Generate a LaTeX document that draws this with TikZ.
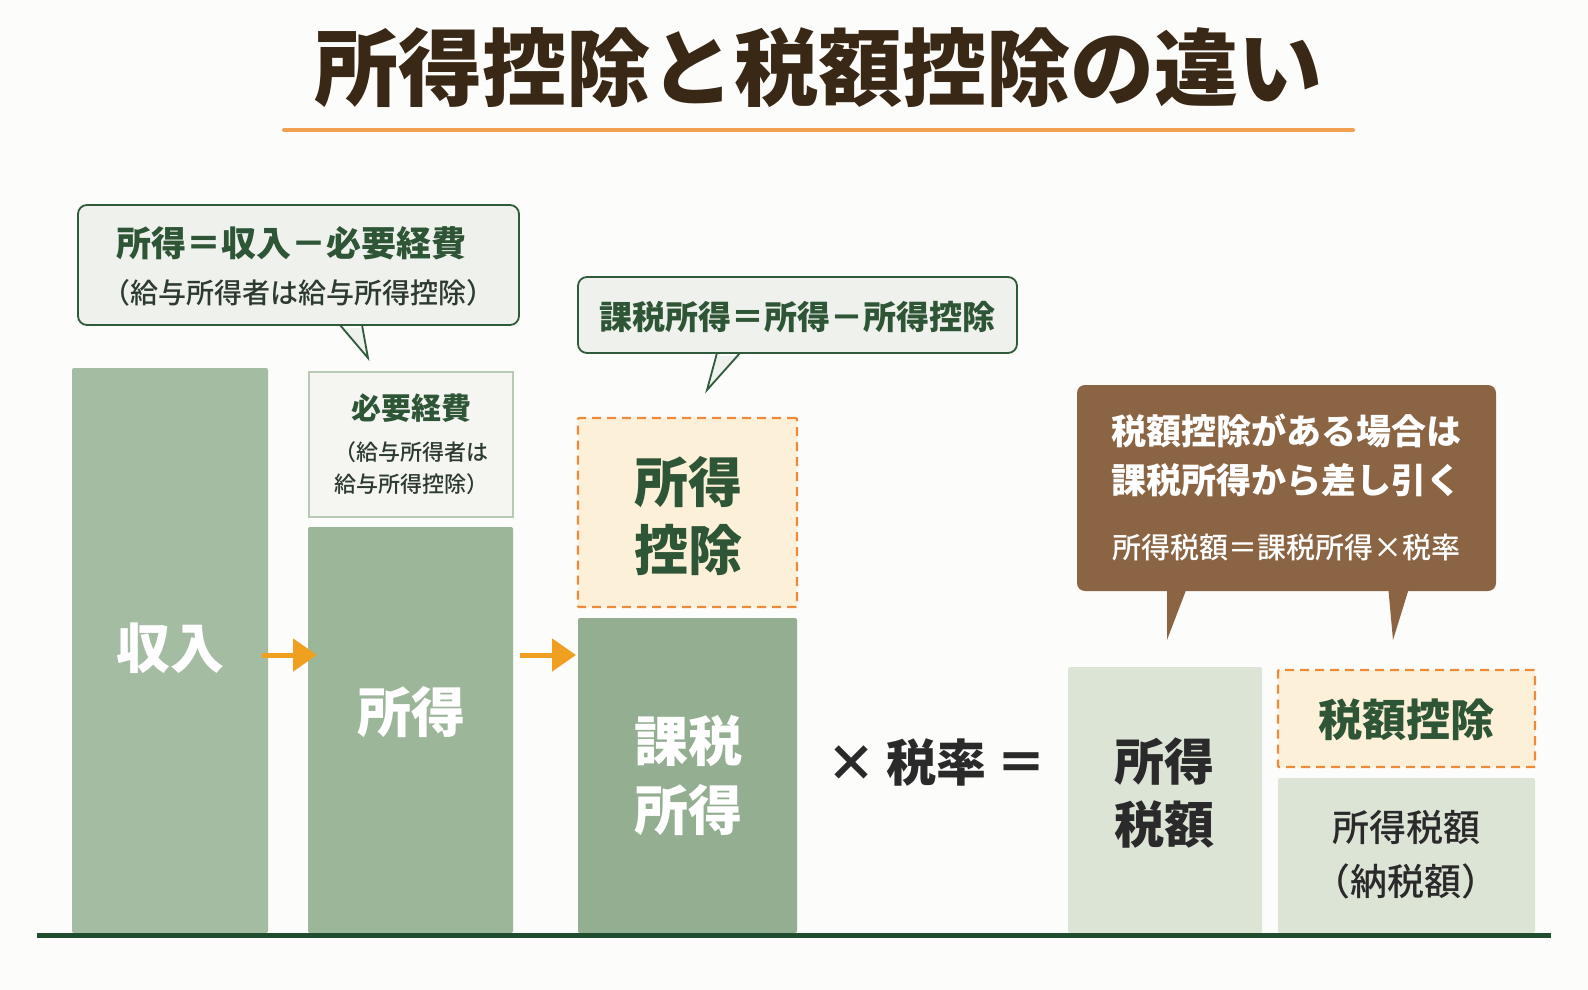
\documentclass[tikz,border=0pt]{standalone}
\usepackage{fontspec}
\setmainfont{Noto Sans CJK JP}
\newfontfamily\jpmed{Noto Sans CJK JP Medium}
\usetikzlibrary{arrows.meta}
\definecolor{bgc}{HTML}{FCFCFA}
\definecolor{titlec}{HTML}{3A2816}
\definecolor{orangeline}{HTML}{F0A050}
\definecolor{arrowc}{HTML}{F0A020}
\definecolor{dashc}{HTML}{EF8A3A}
\definecolor{creamc}{HTML}{FCF1D8}
\definecolor{bar1}{HTML}{A4BCA1}
\definecolor{bar2}{HTML}{9CB699}
\definecolor{bar3}{HTML}{93AE90}
\definecolor{barlight}{HTML}{DCE5D5}
\definecolor{keihif}{HTML}{F5F6F2}
\definecolor{keihid}{HTML}{B8C9B4}
\definecolor{bubf}{HTML}{EEF1EC}
\definecolor{bubd}{HTML}{2F5B3B}
\definecolor{brownc}{HTML}{8A6443}
\definecolor{dgreen}{HTML}{2E5535}
\definecolor{dgray}{HTML}{2C3A2F}
\definecolor{darkt}{HTML}{2A2A2A}
\definecolor{basec}{HTML}{1F4D2E}
\tikzset{
  box/.style={inner sep=0pt, outer sep=0pt, anchor=north west, rounded corners=2pt},
  barbox/.style={box, fill=#1},
  dashbox/.style={box, fill=creamc, draw=dashc, line width=2.2pt, dash pattern=on 9pt off 6pt, rounded corners=1pt},
  bubble/.style={inner sep=0pt, outer sep=0pt, anchor=north west, fill=bubf, draw=bubd, line width=1.8pt, rounded corners=9pt},
  brownbox/.style={inner sep=0pt, outer sep=0pt, anchor=north west, fill=brownc, rounded corners=8pt},
  txt/.style={inner sep=0pt, font=\fontsize{#1}{#1}\selectfont\bfseries},
  mtxt/.style={inner sep=0pt, font=\fontsize{#1}{#1}\selectfont\jpmed},
  flow/.style={draw=arrowc, line width=5pt, -{Triangle[length=24pt,width=32pt]}}
}
\begin{document}
\begin{tikzpicture}[x=1pt,y=-1pt]
\fill[bgc] (0,0) rectangle (1588,990);
\useasboundingbox (0,0) rectangle (1588,990);

% title
\node[txt=84, text=titlec] (title) at (818,68) {所得控除と税額控除の違い};
\coordinate (ulL) at (284,130);
\coordinate (ulR) at (1353,130);
\draw[orangeline, line width=4pt, line cap=round] (ulL) -- (ulR);

% bars
\node[barbox=bar1, minimum width=196pt, minimum height=565pt] (income) at (72,368) {};
\node[barbox=bar2, minimum width=205pt, minimum height=406pt] (shotoku) at (308,527) {};
\node[box, fill=keihif, draw=keihid, line width=1.5pt, rounded corners=0pt, minimum width=204pt, minimum height=145pt] (keihi) at (309,372) {};
\node[barbox=bar3, minimum width=219pt, minimum height=315pt] (kazei) at (578,618) {};
\node[dashbox, minimum width=219pt, minimum height=189pt] (kojo) at (578,418) {};
\node[barbox=barlight, minimum width=194pt, minimum height=266pt] (zeigaku) at (1068,667) {};
\node[dashbox, minimum width=257pt, minimum height=97pt] (zkojo) at (1278,670) {};
\node[barbox=barlight, minimum width=257pt, minimum height=155pt] (nozei) at (1278,778) {};

% baseline
\coordinate (bl) at (37,935);
\coordinate (br) at (1551,935);
\draw[basec, line width=5pt] (bl) -- (br);

% texts in bars
\node[txt=54, text=white] (tIncome) at (170,648) {収入};
\node[txt=54, text=white] (tShotoku) at (411,712) {所得};
\node[txt=54, text=white] (tKazei1) at (688,741) {課税};
\node[txt=54, text=white] (tKazei2) at (688,810) {所得};
\node[txt=54, text=dgreen] (tKojo1) at (688,482) {所得};
\node[txt=54, text=dgreen] (tKojo2) at (688,550) {控除};
\node[txt=30, text=dgreen] (tKeihi) at (411,408) {必要経費};
\node[mtxt=22, text=dgray] (tKeihi2) at (411,452) {（給与所得者は};
\node[mtxt=22, text=dgray] (tKeihi3) at (411,484) {給与所得控除）};
\node[txt=50, text=darkt] (tZei1) at (1164,762) {所得};
\node[txt=50, text=darkt] (tZei2) at (1164,825) {税額};
\node[txt=44, text=dgreen] (tZKojo) at (1406,720) {税額控除};
\node[mtxt=37, text=darkt] (tNozei1) at (1406,827) {所得税額};
\node[mtxt=37, text=darkt] (tNozei2) at (1406,881) {（納税額）};
\node[txt=50, text=darkt] (tRate) at (936,763) {×\hspace{10pt}税率\hspace{10pt}＝};

% arrows
\draw[flow] (income.east |- 0,655) ++(-6,0) -- ([xshift=9pt]shotoku.west |- 0,655);
\draw[flow] (shotoku.east |- 0,655) ++(7,0) -- ([xshift=-2pt]kazei.west |- 0,655);

% bubble 1
\node[bubble, minimum width=441pt, minimum height=120pt] (b1) at (78,205) {};
\coordinate (b1a) at (340,325);
\coordinate (b1b) at (362,325);
\coordinate (b1t) at (368,358);
\fill[bubf] ([yshift=-3pt]b1a) -- (b1t) -- ([yshift=-3pt]b1b) -- cycle;
\draw[bubd, line width=1.8pt, line join=miter] (b1a) -- (b1t) -- (b1b);
\node[txt=35, text=dgreen] (b1l1) at (291,243) {所得＝収入－必要経費};
\node[mtxt=28, text=dgray] (b1l2) at (298,293) {（給与所得者は給与所得控除）};

% bubble 2
\node[bubble, minimum width=439pt, minimum height=76pt] (b2) at (578,277) {};
\coordinate (b2a) at (717,353);
\coordinate (b2b) at (740,353);
\coordinate (b2t) at (707,390);
\fill[bubf] ([yshift=-3pt]b2a) -- (b2t) -- ([yshift=-3pt]b2b) -- cycle;
\draw[bubd, line width=1.8pt, line join=miter] (b2a) -- (b2t) -- (b2b);
\node[txt=33, text=dgreen] (b2l1) at (797,317) {課税所得＝所得－所得控除};

% brown callout
\node[brownbox, minimum width=419pt, minimum height=206pt] (bc) at (1077,385) {};
\coordinate (bca) at (1167,585);
\coordinate (bcb) at (1188,585);
\coordinate (bct) at (1167,640);
\coordinate (bcc) at (1388,585);
\coordinate (bcd) at (1410,585);
\coordinate (bcu) at (1393,640);
\fill[brownc] (bca) -- (bct) -- (bcb) -- cycle;
\fill[brownc] (bcc) -- (bcu) -- (bcd) -- cycle;
\node[txt=35, text=white] (bcl1) at (1286,431) {税額控除がある場合は};
\node[txt=35, text=white] (bcl2) at (1286,480) {課税所得から差し引く};
\node[mtxt=29, text=white] (bcl3) at (1286,547) {所得税額＝課税所得×税率};
\end{tikzpicture}
\end{document}
